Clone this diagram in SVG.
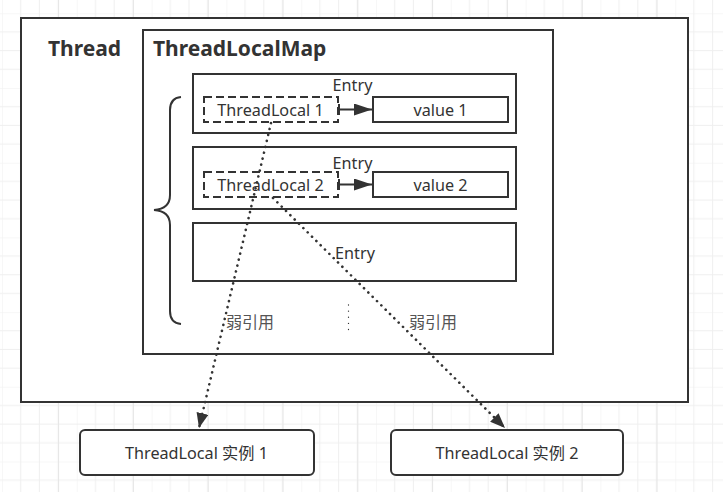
<svg xmlns="http://www.w3.org/2000/svg" width="723" height="492" viewBox="0 0 723 492">
  <style>
    .box { fill: #ffffff; stroke: #333333; stroke-width: 2; }
    .dash { fill: #ffffff; stroke: #333333; stroke-width: 2; stroke-dasharray: 8 4; }
    .t { font-family: "Noto Sans", "Open Sans", "Noto Sans CJK SC", sans-serif; fill: #333333; }
    .title { font-size: 21px; font-weight: bold; }
    .lbl { font-size: 16.2px; }
    .weak { font-size: 16px; fill: #555555; }
    .dot { fill: none; stroke: #333333; stroke-width: 2.6; stroke-linecap: round; stroke-dasharray: 0.1 6; }
    .ln { fill: none; stroke: #333333; stroke-width: 2; }
  </style>
  <defs>
    <pattern id="grid" x="2" y="13.3" width="74.8" height="74.7" patternUnits="userSpaceOnUse">
      <path d="M18.7 0 V74.7 M37.4 0 V74.7 M56.1 0 V74.7 M0 0 H74.8 M0 18.67 H74.8 M0 37.35 H74.8 M0 56.02 H74.8" stroke="#efefef" stroke-width="1" fill="none"/>
      <path d="M0 0 V74.7" stroke="#f0f0f0" stroke-width="1" fill="none"/>
    </pattern>
    <pattern id="gridmaj" x="58.1" y="0" width="74.8" height="492" patternUnits="userSpaceOnUse">
      <path d="M0.5 0 V492" stroke="#e6e6e6" stroke-width="1" fill="none"/>
    </pattern>
    <marker id="arr" viewBox="0 0 18 12" refX="18" refY="6" markerWidth="18" markerHeight="12" markerUnits="userSpaceOnUse" orient="auto">
      <path d="M0 0 L18 6 L0 12 Z" fill="#333333"/>
    </marker>
    <marker id="arrD" viewBox="0 0 15 12" refX="15" refY="6" markerWidth="15" markerHeight="12" markerUnits="userSpaceOnUse" orient="auto">
      <path d="M0 0 L15 6 L0 12 Z" fill="#333333"/>
    </marker>
  </defs>

  <rect x="0" y="0" width="723" height="492" fill="#ffffff"/>
  <rect x="0" y="0" width="723" height="492" fill="url(#grid)"/>
  <rect x="0" y="0" width="723" height="492" fill="url(#gridmaj)"/>

  <g id="thread">
    <rect class="box" x="21" y="18" width="667" height="384"/>
    <text class="t title" x="48" y="56">Thread</text>
  </g>

  <g id="threadlocalmap">
    <rect class="box" x="143" y="30" width="410" height="324"/>
    <text class="t title" x="153" y="56">ThreadLocalMap</text>
  </g>

  <g id="brace">
    <path class="ln" d="M181 97 Q170 98 170 110 V195 Q170 209 154 210 Q170 211 170 225 V311 Q170 323 181 324"/>
  </g>

  <g id="entry1">
    <rect class="box" x="193" y="74" width="323" height="59"/>
    <text class="t lbl" x="352.5" y="90.5" text-anchor="middle">Entry</text>
  </g>
  <g id="threadlocal1">
    <rect class="dash" x="204" y="97" width="134" height="25"/>
    <text class="t lbl" x="270.5" y="115.5" text-anchor="middle">ThreadLocal 1</text>
  </g>
  <g id="value1">
    <rect class="box" x="373" y="97" width="135" height="25"/>
    <text class="t lbl" x="440.5" y="115.5" text-anchor="middle">value 1</text>
  </g>

  <g id="entry2">
    <rect class="box" x="193" y="147" width="323" height="62"/>
    <text class="t lbl" x="352.5" y="168.5" text-anchor="middle">Entry</text>
  </g>
  <g id="threadlocal2">
    <rect class="dash" x="204" y="172" width="134" height="25"/>
    <text class="t lbl" x="270.5" y="190.5" text-anchor="middle">ThreadLocal 2</text>
  </g>
  <g id="value2">
    <rect class="box" x="373" y="172" width="135" height="25"/>
    <text class="t lbl" x="440.5" y="190.5" text-anchor="middle">value 2</text>
  </g>

  <g id="entry3">
    <rect class="box" x="193" y="223" width="323" height="58"/>
    <text class="t lbl" x="355" y="258.5" text-anchor="middle">Entry</text>
  </g>

  <g id="instance1">
    <rect class="box" x="80" y="430" width="234" height="45" rx="5" ry="5"/>
    <text class="t lbl" x="196.5" y="459" text-anchor="middle">ThreadLocal 实例 1</text>
  </g>
  <g id="instance2">
    <rect class="box" x="391" y="430" width="232" height="45" rx="5" ry="5"/>
    <text class="t lbl" x="507" y="459" text-anchor="middle">ThreadLocal 实例 2</text>
  </g>

  <g id="connectors">
    <line class="ln" x1="339" y1="109.5" x2="372" y2="109.5" marker-end="url(#arr)"/>
    <line class="ln" x1="339" y1="104" x2="339" y2="115"/>
    <line class="ln" x1="339" y1="184.5" x2="372" y2="184.5" marker-end="url(#arr)"/>
    <line class="ln" x1="339" y1="179" x2="339" y2="190"/>
    <line class="dot" x1="271" y1="123" x2="199" y2="428" marker-end="url(#arrD)"/>
    <line class="dot" x1="273" y1="198" x2="505" y2="428" marker-end="url(#arrD)"/>
    <line class="dot" x1="348.5" y1="305" x2="348.5" y2="330" style="stroke-width:1.3"/>
    <text class="t weak" x="226" y="328">弱引用</text>
    <text class="t weak" x="409" y="328">弱引用</text>
  </g>
</svg>
